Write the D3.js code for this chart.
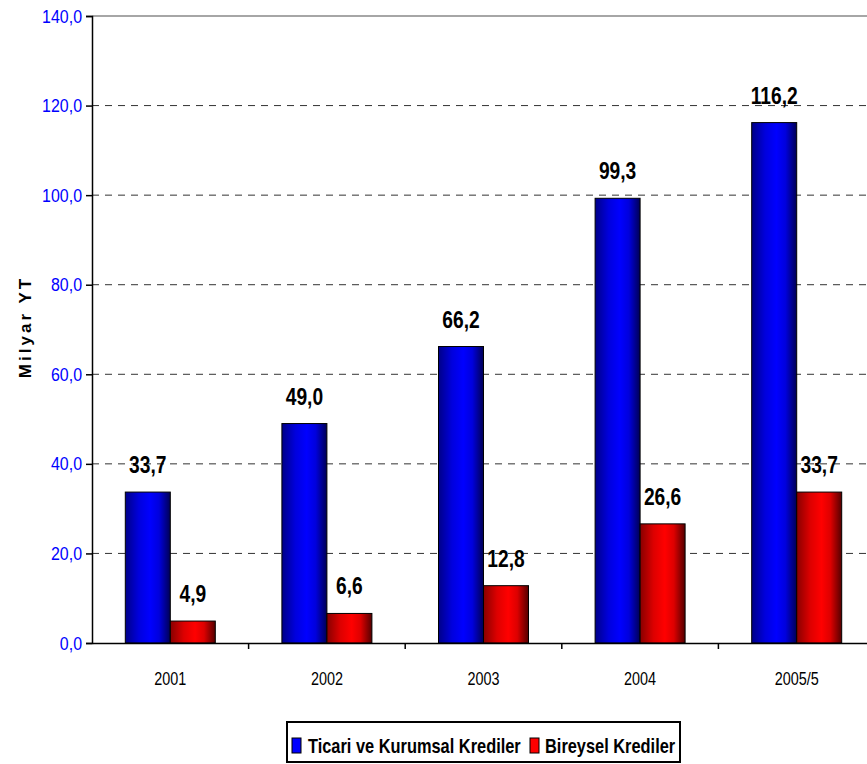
<!DOCTYPE html>
<html><head><meta charset="utf-8">
<script src="https://cdn.jsdelivr.net/npm/d3@7/dist/d3.min.js"></script>
<style>body{margin:0;background:#fff;overflow:hidden}svg{display:block}text{font-family:"Liberation Sans",Arial,sans-serif}</style>
</head><body>
<script>
const categories = ["2001","2002","2003","2004","2005/5"];
const ticari = [33.7,49.0,66.2,99.3,116.2];
const bireysel = [4.9,6.6,12.8,26.6,33.7];
const seriesNames = ["Ticari ve Kurumsal Krediler","Bireysel Krediler"];
const yTicks = [0,20,40,60,80,100,120,140];

(function(){
const W=867,H=764;
const svg=d3.select("body").append("svg").attr("width",W).attr("height",H);
const defs=svg.append("defs");
function grad(id,stops){
  const g=defs.append("linearGradient").attr("id",id).attr("x1","0").attr("x2","1").attr("y1","0").attr("y2","0");
  stops.forEach(s=>g.append("stop").attr("offset",s[0]).attr("stop-color",s[1]));
}
grad("gBlue",[["0%","#000088"],["30%","#0000dd"],["55%","#0000ff"],["75%","#0000dd"],["100%","#000055"]]);
grad("gRed",[["0%","#880000"],["30%","#dd0000"],["55%","#ff0000"],["75%","#dd0000"],["100%","#550000"]]);

const mLeft=92, mTop=16, mBottom=643, mRight=875;
const x=d3.scaleBand().domain(categories).range([mLeft,mRight]);
const y=d3.scaleLinear().domain([0,140]).range([mBottom,mTop]);
const fmt=v=>d3.format(".1f")(v).replace(".",",");

// gridlines
svg.append("g").selectAll("line").data(yTicks.filter(t=>t>0&&t<140)).join("line")
 .attr("x1",mLeft).attr("x2",W).attr("y1",d=>y(d)).attr("y2",d=>y(d))
 .attr("stroke","#333").attr("stroke-width",1).attr("stroke-dasharray","7,6");
svg.append("line").attr("x1",mLeft).attr("x2",W).attr("y1",y(140)).attr("y2",y(140)).attr("stroke","#888").attr("stroke-width",1.5);

// bars
const bw=45, gw=bw*2;
const sets=[{v:ticari,f:"url(#gBlue)",o:0},{v:bireysel,f:"url(#gRed)",o:1}];
sets.forEach(s=>{
  const g=svg.append("g");
  g.selectAll("rect").data(categories).join("rect")
   .attr("x",(d)=>x(d)+(x.bandwidth()-gw)/2+s.o*bw)
   .attr("y",(d,i)=>y(s.v[i]))
   .attr("width",bw).attr("height",(d,i)=>y(0)-y(s.v[i]))
   .attr("fill",s.f).attr("stroke","#000").attr("stroke-width",1);
  g.selectAll("g.lab").data(categories).join("g").attr("class","lab")
   .attr("transform",(d,i)=>`translate(${x(d)+(x.bandwidth()-gw)/2+s.o*bw+bw/2},${y(s.v[i])-19}) scale(0.8,1)`)
   .append("text")
   .attr("text-anchor","middle").attr("font-weight","bold").attr("font-size",24)
   .attr("fill","#000")
   .text((d,i)=>fmt(s.v[i]));
});

// y axis
const ya=svg.append("g").attr("transform",`translate(${mLeft},0)`)
 .call(d3.axisLeft(y).tickValues(yTicks).tickSize(6).tickFormat(fmt));
ya.select(".domain").attr("stroke","#000").attr("stroke-width",1.5);
ya.selectAll(".tick line").attr("stroke","#000").attr("stroke-width",1.5);
ya.selectAll(".tick text").attr("fill","#0000ff").attr("font-size",19)
 .attr("font-family","Liberation Sans, Arial, sans-serif").attr("x",-10/0.84).attr("transform","scale(0.84,1)");

// x axis
const xa=svg.append("g").attr("transform",`translate(0,${mBottom})`)
 .call(d3.axisBottom(x).tickSize(0).tickPadding(29));
xa.select(".domain").attr("stroke","#000").attr("stroke-width",1.5);
xa.selectAll(".tick text").attr("fill","#000").attr("font-size",18).attr("transform","scale(0.8,1)")
 .attr("font-family","Liberation Sans, Arial, sans-serif");
xa.selectAll(".sep").data(categories.slice(1)).join("line").attr("class","sep")
 .attr("x1",d=>x(d)).attr("x2",d=>x(d)).attr("y1",0).attr("y2",6).attr("stroke","#000").attr("stroke-width",1.5);

// y title
svg.append("text").attr("transform","translate(31,327) rotate(-90)")
 .attr("text-anchor","middle").attr("font-weight","bold").attr("font-size",17).attr("letter-spacing","3")
 .text("Milyar YT");

// legend
const lg=svg.append("g");
lg.append("rect").attr("x",287).attr("y",722).attr("width",393).attr("height",40)
 .attr("fill","#fff").attr("stroke","#000").attr("stroke-width",2);
const items=[{n:seriesNames[0],c:"#0000ff",x:292,tx:308},{n:seriesNames[1],c:"#ff0000",x:530,tx:545}];
items.forEach(it=>{
  lg.append("rect").attr("x",it.x).attr("y",738).attr("width",9).attr("height",15).attr("fill",it.c).attr("stroke","#000").attr("stroke-width",1);
  lg.append("g").attr("transform",`translate(${it.tx},753) scale(0.82,1)`)
   .append("text").attr("font-weight","bold").attr("font-size",20).text(it.n);
});
})();
</script>
</body></html>
